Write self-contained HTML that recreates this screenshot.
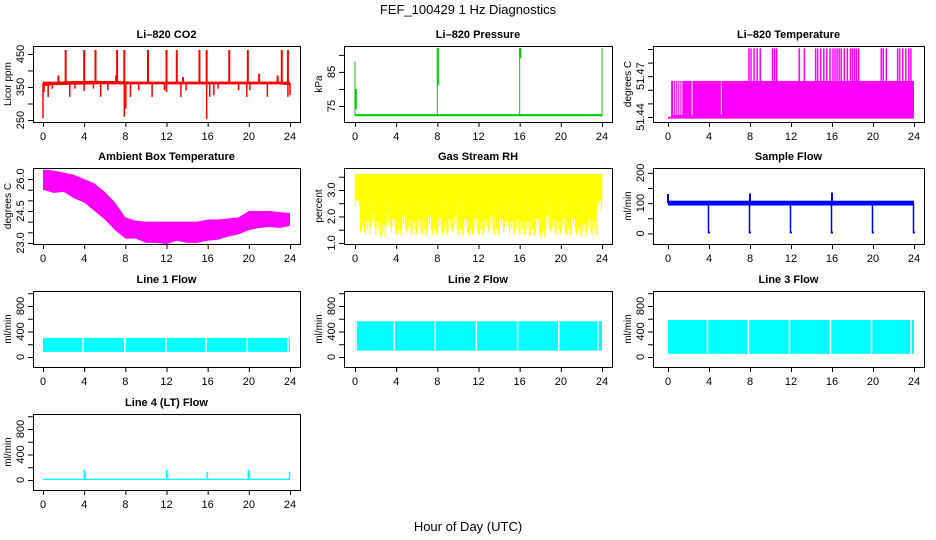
<!DOCTYPE html>
<html><head><meta charset="utf-8"><style>
html,body{margin:0;padding:0;background:#fff}
svg{display:block;font-family:"Liberation Sans",Arial,sans-serif}
</style></head><body>
<svg id="c" width="936" height="540" viewBox="0 0 936 540">
<text x="468" y="14" text-anchor="middle" font-size="13">FEF_100429  1 Hz Diagnostics</text>
<text x="468" y="531" text-anchor="middle" font-size="13">Hour of Day (UTC)</text>
</svg>
<script>
// ---- data ----
const xTicks=[0,4,8,12,16,20,24];
const hours=[0,1,2,3,4,5,6,7,8,9,10,11,12,13,14,15,16,17,18,19,20,21,22,23,24];
// CO2
const co2Lo=[352,356,356,357,357,358,358,358,358,358,358,358,358,358,358,358,358,358,358,358,358,358,358,358,355];
const co2Hi=[366,366,367,368,368,369,368,368,367,366,366,366,366,366,366,366,366,366,366,366,366,366,366,366,366];
const co2UpH=[1.5,2.2,4.0,5.1,7.1,7.2,7.9,10.2,12.0,13.0,13.6,15.2,15.9,18.1,19.9,21.0,22.8,23.2,23.8];
const co2UpV=[385,462,462,462,385,462,462,462,462,462,380,462,462,462,462,390,385,462,462];
const co2DnH=[0.0,0.1,0.5,0.9,2.6,3.1,4.0,4.9,5.6,6.3,7.9,8.05,8.5,9.3,10.6,11.8,12.0,13.4,13.9,15.9,16.2,16.6,17.0,19.0,19.8,20.1,21.8,23.8,24.0];
const co2DnV=[255,335,320,345,320,345,338,345,320,340,260,285,320,340,320,340,335,320,340,252,320,325,345,340,320,340,320,320,325];
// Pressure
const presLo=72.0, presHi=72.6;
const presSegH=[0.0,0.08,8.0,8.05,16.0,16.05,24.0];
const presSegLo=[72,74,72,81,72,89,72];
const presSegHi=[88,80,92,92,92,92,92];
// Li-820 temperature
const liLow=51.4395, liMid=51.4665, liHigh=51.4905, liStart=0.3;
const liGapH=[0.55,0.75,0.95,1.15,1.35,2.35,5.2];
const liSpikeH=[7.9,8.1,8.4,8.7,9.0,10.2,10.4,10.6,12.8,13.3,14.4,14.6,14.9,15.2,15.5,15.8,16.1,16.3,16.5,16.7,16.9,17.2,17.5,17.8,18.0,18.2,18.4,18.6,20.8,21.0,21.3,22.4,22.6,22.9,23.2,23.5,23.7];
// Ambient box temperature
const ambHi=[26.45,26.4,26.3,26.2,26.0,25.8,25.4,24.9,24.2,24.05,24.0,24.0,24.0,24.0,24.0,24.0,24.1,24.1,24.15,24.2,24.5,24.5,24.5,24.45,24.4];
const ambLo=[25.5,25.35,25.4,25.1,24.9,24.5,24.1,23.6,23.2,23.2,23.0,23.0,22.95,23.1,23.0,23.0,23.1,23.15,23.3,23.4,23.6,23.7,23.75,23.7,23.8];
// Gas stream RH (half-hour bins)
const rhHi=3.6;
const rhLo=[2.4,1.4,1.3,1.6,1.3,1.2,1.6,1.4,1.3,1.5,1.4,1.3,1.4,1.3,1.5,1.3,1.4,1.3,1.4,1.5,1.3,1.4,1.3,1.4,1.3,1.4,1.5,1.3,1.4,1.6,1.3,1.4,1.3,1.3,1.3,1.4,1.2,1.5,1.4,1.3,1.4,1.3,1.4,1.3,1.2,1.4,1.3,2.2];
// Sample flow
const sfLo=92, sfHi=108;
const sfDropH=[3.95,7.95,11.95,15.95,19.95,23.95];
const sfPeakH=[0.0,8.0,16.0];
const sfPeakV=[130,132,135];
// Line flows
const l1Lo=80,l1Hi=300; const l1Gaps=[3.9,7.95,11.95,15.85,19.85,23.8];
const l2Lo=100,l2Hi=560; const l2Gaps=[0.1,3.8,7.8,11.8,15.8,19.8,23.6];
const l3Lo=50,l3Hi=580; const l3Gaps=[3.85,7.85,11.85,15.85,19.85,23.7];
const l4Lo=0,l4Hi=20;
const l4SpH=[4.0,4.1,12.0,12.1,15.95,19.95,20.05,23.95];
const l4SpV=[160,110,160,100,130,160,110,130];

// ---- layout ----
const NS="http://www.w3.org/2000/svg";
const svg=document.getElementById('c');
const cols=[{l:33,r:300,x0:43,x1:290},{l:344,r:612,x0:355,x1:602},{l:653,r:924,x0:668,x1:914}];
const rows=[46,168,291,414]; const PH=76;
function el(tag,attrs,parent){const e=document.createElementNS(NS,tag);for(const k in attrs)e.setAttribute(k,attrs[k]);(parent||svg).appendChild(e);return e;}
function panel(name,ci,ri,title,ylab,ymin,ymax,yTicks,yLabels){
  const c=cols[ci],top=rows[ri],bot=top+PH;
  const g=el('g',{});
  
  
  const sx=v=>c.x0+(c.x1-c.x0)*v/24;
  const sy=v=>bot-(v-ymin)/(ymax-ymin)*PH;
  const t=el('text',{x:(c.l+c.r)/2,y:top-8,'text-anchor':'middle','font-size':11,'font-weight':'bold'},g);t.textContent=title;
  
  
  const data=el('g',{},g);
  
  
  const ax=el('g',{stroke:'#000','stroke-width':1,fill:'none'},g);
  
  
  el('rect',{x:c.l+.5,y:top+.5,width:c.r-c.l,height:PH},ax);
  el('line',{x1:sx(0),x2:sx(24),y1:bot+.5,y2:bot+.5},ax);
  xTicks.forEach(v=>{el('line',{x1:sx(v)+.5,x2:sx(v)+.5,y1:bot,y2:bot+5},ax);
    const tl=el('text',{x:sx(v),y:bot+18,'text-anchor':'middle','font-size':11},g);tl.textContent=v;
    
    });
  yTicks.forEach((v,i)=>{el('line',{x1:c.l-5,x2:c.l,y1:sy(v)+.5,y2:sy(v)+.5},ax);
    if(yLabels[i]){const tl=el('text',{x:0,y:0,'text-anchor':'middle','font-size':11,transform:`translate(${c.l-9},${sy(v)}) rotate(-90)`},g);tl.textContent=yLabels[i];
    
    }});
  const yl=el('text',{x:0,y:0,'text-anchor':'middle','font-size':10,transform:`translate(${c.l-22},${(top+bot)/2}) rotate(-90)`},g);yl.textContent=ylab;
  
  
  return {sx,sy,g:data,top,bot};
}
function vline(p,x,y0,y1,col,w){el('line',{x1:p.sx(x),x2:p.sx(x),y1:p.sy(y0),y2:p.sy(y1),stroke:col,'stroke-width':w||1},p.g);}
function band(p,arrH,lo,hi,col){
  const pts=[];
  arrH.forEach((h,i)=>pts.push(p.sx(h)+','+p.sy(hi[i])));
  for(let i=arrH.length-1;i>=0;i--)pts.push(p.sx(arrH[i])+','+p.sy(lo[i]));
  el('polygon',{points:pts.join(' '),fill:col},p.g);
}

// CO2
let p=panel('co2',0,0,'Li\u2013820 CO2','Licor ppm',244,474,[250,300,350,400,450],['250','','350','','450']);
band(p,hours,co2Lo,co2Hi,'#ff0000');
co2UpH.forEach((h,i)=>vline(p,h,362,co2UpV[i],'#ff0000',2));
co2DnH.forEach((h,i)=>vline(p,h,362,co2DnV[i],'#ff0000',1.5));
// Pressure
p=panel('pressure',1,0,'Li\u2013820 Pressure','kPa',70.3,92.6,[75,80,85,90],['75','','85','']);
el('rect',{x:p.sx(0),y:p.sy(presHi),width:p.sx(24)-p.sx(0),height:p.sy(presLo)-p.sy(presHi),fill:'#00cc00'},p.g);
presSegH.forEach((h,i)=>vline(p,h,presSegLo[i],presSegHi[i],'#00cc00',i%2?2:1));
// Li temp
p=panel('li820-temp',2,0,'Li\u2013820 Temperature','degrees C',51.4363,51.4922,[51.44,51.45,51.46,51.47,51.48,51.49],['51.44','','','51.47','','']);
el('rect',{x:p.sx(0),y:p.sy(liLow)-1,width:p.sx(24)-p.sx(0),height:2,fill:'#ff00ff'},p.g);
el('rect',{x:p.sx(liStart),y:p.sy(liMid),width:p.sx(24)-p.sx(liStart),height:p.sy(liLow)-p.sy(liMid),fill:'#ff00ff'},p.g);
liGapH.forEach(h=>vline(p,h,liLow+0.002,liMid,'#ffffff',1));
liSpikeH.forEach(h=>vline(p,h,liMid,liHigh,'#ff00ff',1.5));
// Ambient
p=panel('ambient-temp',0,1,'Ambient Box Temperature','degrees C',22.95,26.52,[23,23.5,24,24.5,25,25.5,26],['23.0','','','24.5','','','26.0']);
band(p,hours,ambLo,ambHi,'#ff00ff');
// RH
p=panel('gas-rh',1,1,'Gas Stream RH','percent',0.96,3.83,[1,1.5,2,2.5,3,3.5],['1.0','','2.0','','3.0','']);
rhLo.forEach((v,i)=>{const a=p.sx(i/2),b=p.sx((i+1)/2);el('rect',{x:a,y:p.sy(rhHi),width:b-a+0.3,height:p.sy(2.6)-p.sy(rhHi),fill:'#ffff00'},p.g);
  for(let k=0;k<5;k++){vline(p,i/2+k*0.1+0.03,rhHi,v+(k%2)*0.5+(k==2?0.2:0),'#ffff00',1.2);}});
// Sample flow
p=panel('sample-flow',2,1,'Sample Flow','ml/min',-35,216,[0,50,100,150,200],['0','','100','','200']);
el('rect',{x:p.sx(0),y:p.sy(sfHi),width:p.sx(24)-p.sx(0),height:p.sy(sfLo)-p.sy(sfHi),fill:'#0000ff'},p.g);
sfDropH.forEach(h=>{vline(p,h,100,0,'#0000ff',1.5);vline(p,h+0.05,0,6,'#0000ff',2);});
sfPeakH.forEach((h,i)=>vline(p,h,100,sfPeakV[i],'#0000ff',2));
// Line flows
function flow(name,ci,ri,title,lo,hi,gaps){
  const q=panel(name,ci,ri,title,'ml/min',-157,1035,[0,200,400,600,800,1000],['0','','400','','800','']);
  el('rect',{x:q.sx(0),y:q.sy(hi),width:q.sx(24)-q.sx(0),height:q.sy(lo)-q.sy(hi),fill:'#00ffff'},q.g);
  gaps.forEach(h=>vline(q,h,lo,hi,'#ffffff',1.5));
  return q;
}
flow('line1-flow',0,2,'Line 1 Flow',l1Lo,l1Hi,l1Gaps);
flow('line2-flow',1,2,'Line 2 Flow',l2Lo,l2Hi,l2Gaps);
flow('line3-flow',2,2,'Line 3 Flow',l3Lo,l3Hi,l3Gaps);
p=flow('line4-flow',0,3,'Line 4 (LT) Flow',l4Lo,l4Hi,[]);
l4SpH.forEach((h,i)=>vline(p,h,l4Hi,l4SpV[i],'#00ffff',1.5));
</script>
</body></html>
